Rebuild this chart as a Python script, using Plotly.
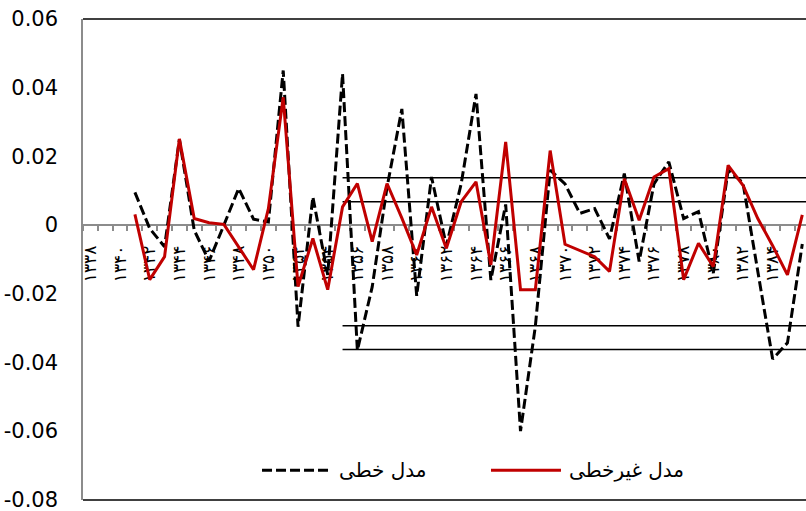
import plotly.graph_objects as go

years = [1338, 1339, 1340, 1341, 1342, 1343, 1344, 1345, 1346, 1347,
         1348, 1349, 1350, 1351, 1352, 1353, 1354, 1355, 1356, 1357,
         1358, 1359, 1360, 1361, 1362, 1363, 1364, 1365, 1366, 1367,
         1368, 1369, 1370, 1371, 1372, 1373, 1374, 1375, 1376, 1377,
         1378, 1379, 1380, 1381, 1382, 1383, 1384, 1385, 1386]

tick_years = ["۱۳۳۸", "۱۳۴۰", "۱۳۴۲", "۱۳۴۴", "۱۳۴۶", "۱۳۴۸", "۱۳۵۰", "۱۳۵۲",
              "۱۳۵۴", "۱۳۵۶", "۱۳۵۸", "۱۳۶۰", "۱۳۶۲", "۱۳۶۴", "۱۳۶۶", "۱۳۶۸",
              "۱۳۷۰", "۱۳۷۲", "۱۳۷۴", "۱۳۷۶", "۱۳۷۸", "۱۳۸۰", "۱۳۸۲", "۱۳۸۴",
              "۱۳۸۶"]

linear_model = [None, None, None, 0.0095, -0.001, -0.0063, 0.025, -0.0015, -0.0105, 0.0,
                0.0107, 0.0017, 0.0009, 0.045, -0.0296, 0.0082, -0.0145, 0.044, -0.0365, -0.018,
                0.011, 0.0338, -0.0206, 0.014, -0.006, 0.012, 0.0382, -0.016, 0.006, -0.060,
                -0.0295, 0.016, 0.012, 0.0034, 0.0048, -0.004, 0.015, -0.0106, 0.012, 0.0184,
                0.0019, 0.0039, -0.014, 0.016, 0.0123, -0.0135, -0.039, -0.0343, -0.0055]

nonlinear_model = [None, None, None, 0.0031, -0.0159, -0.0092, 0.0251, 0.0019, 0.0007, 0.0002,
                   -0.0064, -0.013, 0.0048, 0.0372, -0.0179, -0.0039, -0.0188, 0.0053, 0.0121, -0.0048,
                   0.0121, 0.002, -0.0087, 0.0053, -0.0068, 0.0068, 0.0126, -0.0116, 0.0242, -0.0188,
                   -0.0188, 0.0217, -0.0056, -0.0075, -0.0092, -0.0135, 0.0135, 0.0014, 0.014, 0.0164,
                   -0.0159, -0.0053, -0.0121, 0.0174, 0.0116, 0.0019, -0.006, -0.0145, 0.003]

thresholds = [0.0138, 0.0068, -0.0293, -0.0362]
threshold_start_year = 1355

y_tickvals = [0.06, 0.04, 0.02, 0, -0.02, -0.04, -0.06, -0.08]
y_ticktext = ["0.06", "0.04", "0.02", "0", "-0.02", "-0.04", "-0.06", "-0.08"]

name_linear = "مدل خطی"
name_nonlinear = "مدل غیرخطی"

idx = list(range(len(years)))
digit_map = str.maketrans("۰۱۲۳۴۵۶۷۸۹", "0123456789")
tick_idx = [years.index(int(t.translate(digit_map))) for t in tick_years]
boundaries = [i - 0.5 for i in range(len(years) + 1)]

fig = go.Figure()

start_i = years.index(threshold_start_year)
for t in thresholds:
    fig.add_trace(go.Scatter(
        x=idx[start_i:] + [len(years) + 1], y=[t] * (len(years) - start_i + 1),
        mode="lines", line=dict(color="black", width=1.5),
        showlegend=False, hoverinfo="skip"))

fig.add_trace(go.Scatter(
    x=idx, y=linear_model, name=name_linear, mode="lines", showlegend=False,
    line=dict(color="black", width=3, dash="10px,4px")))

fig.add_trace(go.Scatter(
    x=idx, y=nonlinear_model, name=name_nonlinear, mode="lines", showlegend=False,
    line=dict(color="#C00000", width=3)))

ymin, ymax = -0.08, 0.06
zero_frac = (0 - ymin) / (ymax - ymin)

# manual legend (paper coordinates)
leg_y = 0.062
legend_items = [
    (name_linear, dict(color="black", width=3, dash="10px,4px"), 0.2476, 0.3416, 0.3513),
    (name_nonlinear, dict(color="#C00000", width=3), 0.5643, 0.6611, 0.6694),
]
shapes = [
    dict(type="line", xref="paper", yref="paper", x0=0, x1=1, y0=1, y1=1,
         line=dict(color="black", width=1.5)),
    dict(type="line", xref="paper", yref="paper", x0=0, x1=1, y0=0, y1=0,
         line=dict(color="black", width=1.5)),
]
annotations = []
for name, ln, sx0, sx1, tx in legend_items:
    shapes.append(dict(type="line", xref="paper", yref="paper", x0=sx0, x1=sx1,
                       y0=leg_y, y1=leg_y, line=ln))
    annotations.append(dict(xref="paper", yref="paper", x=tx, y=leg_y, text=name,
                            showarrow=False, xanchor="left", yanchor="middle",
                            font=dict(family="DejaVu Sans", size=20, color="black")))

fig.update_layout(
    width=806, height=511,
    margin=dict(l=83, r=0, t=19, b=11, autoexpand=False),
    paper_bgcolor="white", plot_bgcolor="white",
    font=dict(family="DejaVu Sans", color="black"),
    showlegend=False,
    xaxis=dict(
        range=[-0.5, 48.25], anchor="free", position=zero_frac, automargin=False,
        showgrid=False, zeroline=False,
        showline=True, linecolor="#8c8c8c", linewidth=1.5,
        tickmode="array", tickvals=tick_idx, ticktext=tick_years, tickangle=-90,
        ticks="outside", ticklen=0, ticklabelstandoff=13,
        tickfont=dict(family="DejaVu Sans", size=17, color="black"),
        minor=dict(tickmode="array", tickvals=boundaries, ticks="outside", ticklen=5,
                   tickcolor="#8c8c8c", tickwidth=1.5, showgrid=False),
        layer="below traces",
    ),
    yaxis=dict(
        range=[ymin - 0.00005, ymax], showgrid=False, zeroline=False, automargin=False,
        showline=True, linecolor="#8c8c8c", linewidth=1.5,
        tickmode="array", tickvals=y_tickvals, ticktext=y_ticktext, ticks="",
        ticklabelstandoff=19, ticklabeloverflow="allow",
        tickfont=dict(family="DejaVu Sans", size=21, color="black"),
        layer="below traces",
    ),
    shapes=shapes,
    annotations=annotations,
)

fig.write_html("out.html", config={"displayModeBar": False},
               post_script="document.body.style.margin='0';document.body.style.overflow='hidden';")
